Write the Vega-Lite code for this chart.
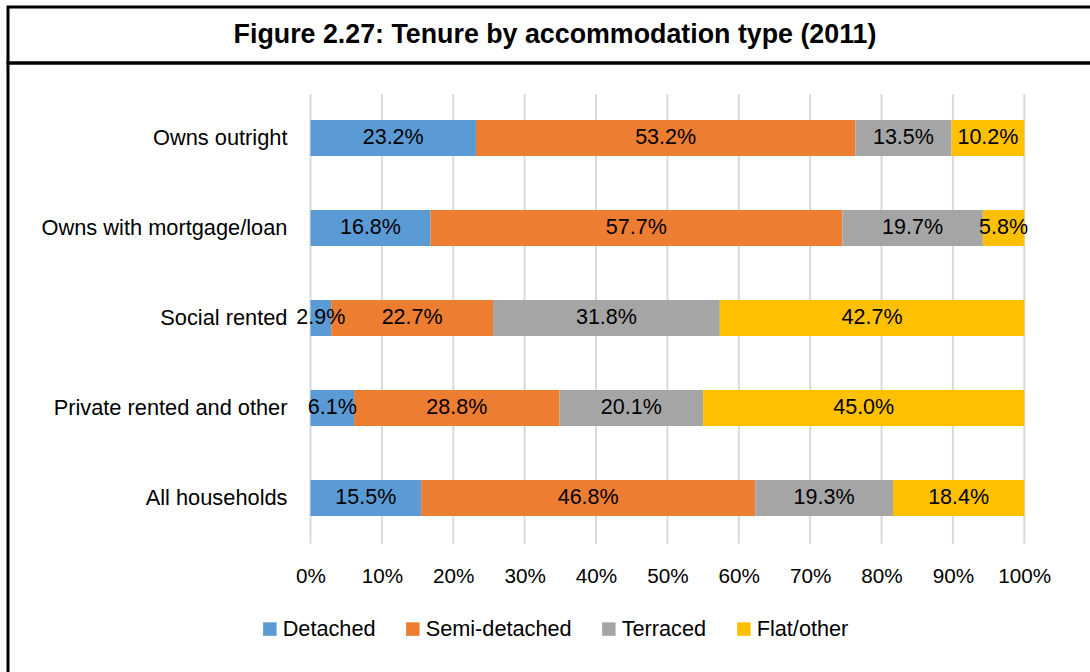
{
  "$schema": "https://vega.github.io/schema/vega-lite/v6.json",
  "autosize": {"type": "pad"},
  "padding": {"left": 6, "top": 5, "right": 0, "bottom": 0},
  "background": "white",
  "bounds": "flush",
  "spacing": 0,
  "config": {
    "font": "Liberation Sans",
    "view": {"stroke": "black", "strokeWidth": 3},
    "axisX": {
      "title": null, "orient": "bottom", "offset": -107, "domain": false, "ticks": false, "tickSize": 0,
      "grid": false, "labelPadding": 0, "labelBaseline": "middle", "labelFontSize": 20.7,
      "labelFont": "Liberation Sans", "labelColor": "black", "labelFlush": false, "labelOverlap": false
    },
    "axisY": {
      "title": null, "domain": false, "ticks": false, "tickSize": 0, "grid": false, "offset": -279,
      "labelPadding": 0, "labelFontSize": 21.8, "labelFont": "Liberation Sans", "labelColor": "black",
      "labelLimit": 400
    }
  },
  "vconcat": [
    {
      "width": 1094,
      "height": 56,
      "data": {"values": [{"title": "Figure 2.27: Tenure by accommodation type (2011)"}]},
      "mark": {"type": "text", "font": "Liberation Sans", "fontWeight": "bold", "fontSize": 26.8, "color": "black", "align": "center", "baseline": "middle"},
      "encoding": {
        "x": {"datum": 0.5, "type": "quantitative", "scale": {"domain": [0, 1]}, "axis": null},
        "y": {"datum": 0.5, "type": "quantitative", "scale": {"domain": [0, 1]}, "axis": null},
        "text": {"field": "title"}
      }
    },
    {
      "width": 1094,
      "height": 620,
      "resolve": {"scale": {"y": "independent"}},
      "layer": [
        {
          "data": {"values": [{"p": 0}, {"p": 0.1}, {"p": 0.2}, {"p": 0.3}, {"p": 0.4}, {"p": 0.5}, {"p": 0.6}, {"p": 0.7}, {"p": 0.8}, {"p": 0.9}, {"p": 1}]},
          "mark": {"type": "rule", "color": "#D9D9D9", "strokeWidth": 2},
          "encoding": {
            "x": {"field": "p", "type": "quantitative", "scale": {"domain": [-0.42379, 1.10885], "zero": false, "nice": false},
                  "axis": {"values": [0, 0.1, 0.2, 0.3, 0.4, 0.5, 0.6, 0.7, 0.8, 0.9, 1], "format": ".0%"}},
            "y": {"datum": 0, "type": "quantitative", "scale": {"domain": [-0.30997, 1.06965], "zero": false, "nice": false}, "axis": null},
            "y2": {"datum": 1}
          }
        },
        {
          "data": {"name": "tenure"},
          "transform": [{"calculate": "indexof(['Detached','Semi-detached','Terraced','Flat/other'], datum.type)", "as": "typeOrder"}],
          "layer": [
            {
              "mark": {"type": "bar", "height": {"band": 0.4}},
              "encoding": {
                "x": {"field": "pct", "type": "quantitative", "stack": "normalize", "scale": {"domain": [-0.42379, 1.10885], "zero": false, "nice": false},
                      "axis": {"values": [0, 0.1, 0.2, 0.3, 0.4, 0.5, 0.6, 0.7, 0.8, 0.9, 1], "format": ".0%"}},
                "y": {"field": "tenure", "type": "nominal", "sort": ["Owns outright", "Owns with mortgage/loan", "Social rented", "Private rented and other", "All households"], "scale": {"paddingInner": 0, "paddingOuter": 0.9444, "align": 0.17647}},
                "color": {
                  "field": "type", "type": "nominal", "sort": ["Detached", "Semi-detached", "Terraced", "Flat/other"],
                  "scale": {"domain": ["Detached", "Semi-detached", "Terraced", "Flat/other"], "range": ["#5B9BD5", "#ED7D31", "#A5A5A5", "#FFC000"]},
                  "legend": {
                    "orient": "none", "legendX": 251, "legendY": 611, "direction": "horizontal", "columns": 4,
                    "columnPadding": 26, "title": null, "padding": 0, "symbolType": "square", "symbolSize": 182,
                    "symbolStrokeWidth": 0, "labelOffset": 2, "labelFontSize": 21.7, "labelFont": "Liberation Sans",
                    "labelColor": "black", "labelLimit": 300
                  }
                },
                "order": {"field": "typeOrder", "type": "quantitative"}
              }
            },
            {
              "mark": {"type": "text", "fontSize": 21.5, "font": "Liberation Sans", "color": "black", "baseline": "middle", "align": "center"},
              "encoding": {
                "x": {"field": "pct", "type": "quantitative", "stack": "normalize", "bandPosition": 0.5},
                "y": {"field": "tenure", "type": "nominal", "sort": ["Owns outright", "Owns with mortgage/loan", "Social rented", "Private rented and other", "All households"]},
                "detail": {"field": "type", "type": "nominal"},
                "order": {"field": "typeOrder", "type": "quantitative"},
                "text": {"field": "pct", "type": "quantitative", "format": ".1%"}
              }
            }
          ]
        }
      ]
    }
  ],
  "datasets": {
    "tenure": [
      {"tenure": "Owns outright", "type": "Detached", "pct": 0.232},
      {"tenure": "Owns outright", "type": "Semi-detached", "pct": 0.532},
      {"tenure": "Owns outright", "type": "Terraced", "pct": 0.135},
      {"tenure": "Owns outright", "type": "Flat/other", "pct": 0.102},
      {"tenure": "Owns with mortgage/loan", "type": "Detached", "pct": 0.168},
      {"tenure": "Owns with mortgage/loan", "type": "Semi-detached", "pct": 0.577},
      {"tenure": "Owns with mortgage/loan", "type": "Terraced", "pct": 0.197},
      {"tenure": "Owns with mortgage/loan", "type": "Flat/other", "pct": 0.058},
      {"tenure": "Social rented", "type": "Detached", "pct": 0.029},
      {"tenure": "Social rented", "type": "Semi-detached", "pct": 0.227},
      {"tenure": "Social rented", "type": "Terraced", "pct": 0.318},
      {"tenure": "Social rented", "type": "Flat/other", "pct": 0.427},
      {"tenure": "Private rented and other", "type": "Detached", "pct": 0.061},
      {"tenure": "Private rented and other", "type": "Semi-detached", "pct": 0.288},
      {"tenure": "Private rented and other", "type": "Terraced", "pct": 0.201},
      {"tenure": "Private rented and other", "type": "Flat/other", "pct": 0.450},
      {"tenure": "All households", "type": "Detached", "pct": 0.155},
      {"tenure": "All households", "type": "Semi-detached", "pct": 0.468},
      {"tenure": "All households", "type": "Terraced", "pct": 0.193},
      {"tenure": "All households", "type": "Flat/other", "pct": 0.184}
    ]
  }
}
